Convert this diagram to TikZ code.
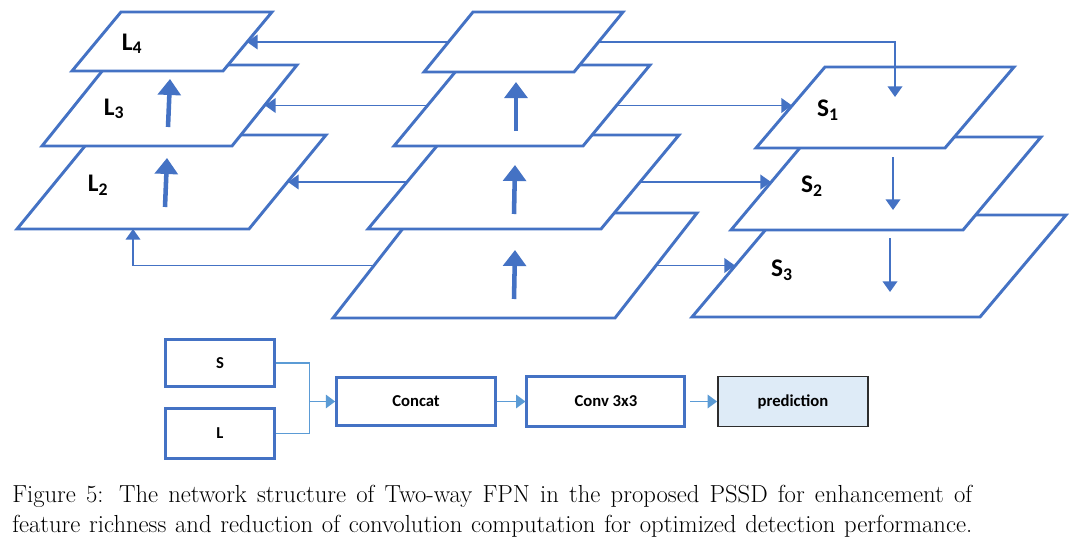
\documentclass[tikz,border=0pt]{standalone}
\usepackage{fontspec}
\newfontfamily\diagfont{Carlito}
\usetikzlibrary{arrows.meta,positioning,calc}
\definecolor{planeblue}{RGB}{68,114,196}
\definecolor{feedblue}{RGB}{91,155,213}
\definecolor{predfill}{RGB}{222,235,247}
\definecolor{predline}{RGB}{45,45,45}
\pgfdeclarelayer{front}
\pgfsetlayers{main,front}

% feature map: name, bottom-left x, bottom y, width, height, slant
\newcommand{\fmap}[6]{%
  \draw[plane] (#2,#3) -- ++(#4,0) -- ++(#6,-#5) -- ++(-#4,0) -- cycle;
  \coordinate (#1) at ({#2+(#4+#6)/2},{#3-#5/2});}

\begin{document}
\begin{tikzpicture}[x=0.75pt,y=-0.75pt,
        plane/.style={draw=planeblue, line width=2.2pt, fill=white},
        lift/.style={-{Triangle[width=17pt,length=12pt]}, draw=planeblue, line width=3.4pt},
        link/.style={-{Triangle[width=11pt,length=8pt]}, draw=planeblue, line width=1.25pt},
        maplabel/.style={font=\diagfont\bfseries\fontsize{19}{19}\selectfont, inner sep=0pt},
        blk/.style={rectangle, draw=planeblue, line width=2.2pt, fill=white,
            minimum width=82pt, minimum height=35pt, font=\diagfont\bfseries\fontsize{12.5}{12.5}\selectfont},
        feedline/.style={draw=feedblue, line width=1.4pt},
        feed/.style={feedline, -{Triangle[width=10pt,length=7pt]}},
        caption/.style={anchor=base west, inner sep=0pt, font=\fontsize{18.5}{22}\selectfont}
    ]
        \path[use as bounding box, fill=white] (0,0) rectangle (1080,542);

        % middle stack sits above the links
        \begin{pgfonlayer}{front}
        \fmap{M1}{333}{318}{282}{105}{82}
        \fmap{M2}{368}{229}{233}{94}{78}
        \fmap{M3}{394}{146}{189}{81}{67}
        \fmap{M4}{424}{72}{150}{60}{49}
        \draw[lift] (514,299) -- (515,250);
        \draw[lift] (514,214) -- (515,165);
        \draw[lift] (516,131) -- (516,82);
        \end{pgfonlayer}

        % left stack
        \fmap{L2}{17}{229}{232}{94}{77}
        \fmap{L3}{42}{146}{190}{81}{65}
        \fmap{L4}{72}{71}{151}{59}{49}
        \draw[lift] (165,207) -- (167,158);
        \draw[lift] (168,127) -- (170,79);

        % right stack
        \fmap{S3}{692}{317}{288}{102}{86}
        \fmap{S2}{731}{230}{232}{93}{78}
        \fmap{S1}{756}{148}{189}{81}{69}

        \coordinate (l4in) at (247,42);
        \coordinate (l3in) at (265,105.5);
        \coordinate (l2in) at (288,182);
        \coordinate (l2foot) at (133,229);
        \coordinate (s1top) at (895,97);
        \coordinate (s1in) at (792,105.5);
        \coordinate (s2in) at (771,182);
        \coordinate (s3in) at (735,265.5);

        \draw[link] (M4) -- (l4in);
        \draw[link] (M4) -| (s1top);
        \draw[link] (M3) -- (l3in);
        \draw[link] (M3) -- (s1in);
        \draw[link] (M2) -- (l2in);
        \draw[link] (M2) -- (s2in);
        \draw[link] (M1) -| (l2foot);
        \draw[link] (M1) -- (s3in);
        \draw[link] (893,157) -- (893,210);
        \draw[link] (890,238) -- (890,292);

        \node[maplabel] (l4lab) at (132,44) {L\textsubscript{4}};
        \node[maplabel] (l3lab) at (114,109) {L\textsubscript{3}};
        \node[maplabel] (l2lab) at (98,185) {L\textsubscript{2}};
        \node[maplabel] (s1lab) at (828,110) {S\textsubscript{1}};
        \node[maplabel] (s2lab) at (812,186) {S\textsubscript{2}};
        \node[maplabel] (s3lab) at (782,270) {S\textsubscript{3}};

        % prediction head
        \node[blk] (sbox) at (220,363) {S};
        \node[blk, minimum height=37.5pt] (lbox) at (220,433.5) {L};
        \node[blk, minimum width=119pt, minimum height=36pt] (concat) at (416,401.5) {Concat};
        \node[blk, minimum width=118.5pt, minimum height=37pt, right=21.5pt of concat] (conv) {Conv 3x3};
        \node[blk, minimum width=112.5pt, minimum height=37.5pt, right=23pt of conv,
            fill=predfill, draw=predline, line width=1.3pt] (pred) {prediction};

        \coordinate (merge) at ([xshift=25pt]sbox.east |- concat.west);
        \draw[feedline] (sbox.east) -| (merge);
        \draw[feedline] (lbox.east) -| (merge);
        \draw[feed] (merge) -- (concat.west);
        \draw[feed] (concat) -- (conv);
        \draw[feed, shorten <=3pt] (conv) -- (pred);

        \node[caption] (cap1) at (12,502) {\makebox[720pt][s]{Figure 5: The network structure of Two-way FPN in the proposed PSSD for enhancement of}};
        \node[caption] (cap2) at (12,532) {\makebox[720pt][s]{feature richness and reduction of convolution computation for optimized detection performance.}};
    \end{tikzpicture}
\end{document}
